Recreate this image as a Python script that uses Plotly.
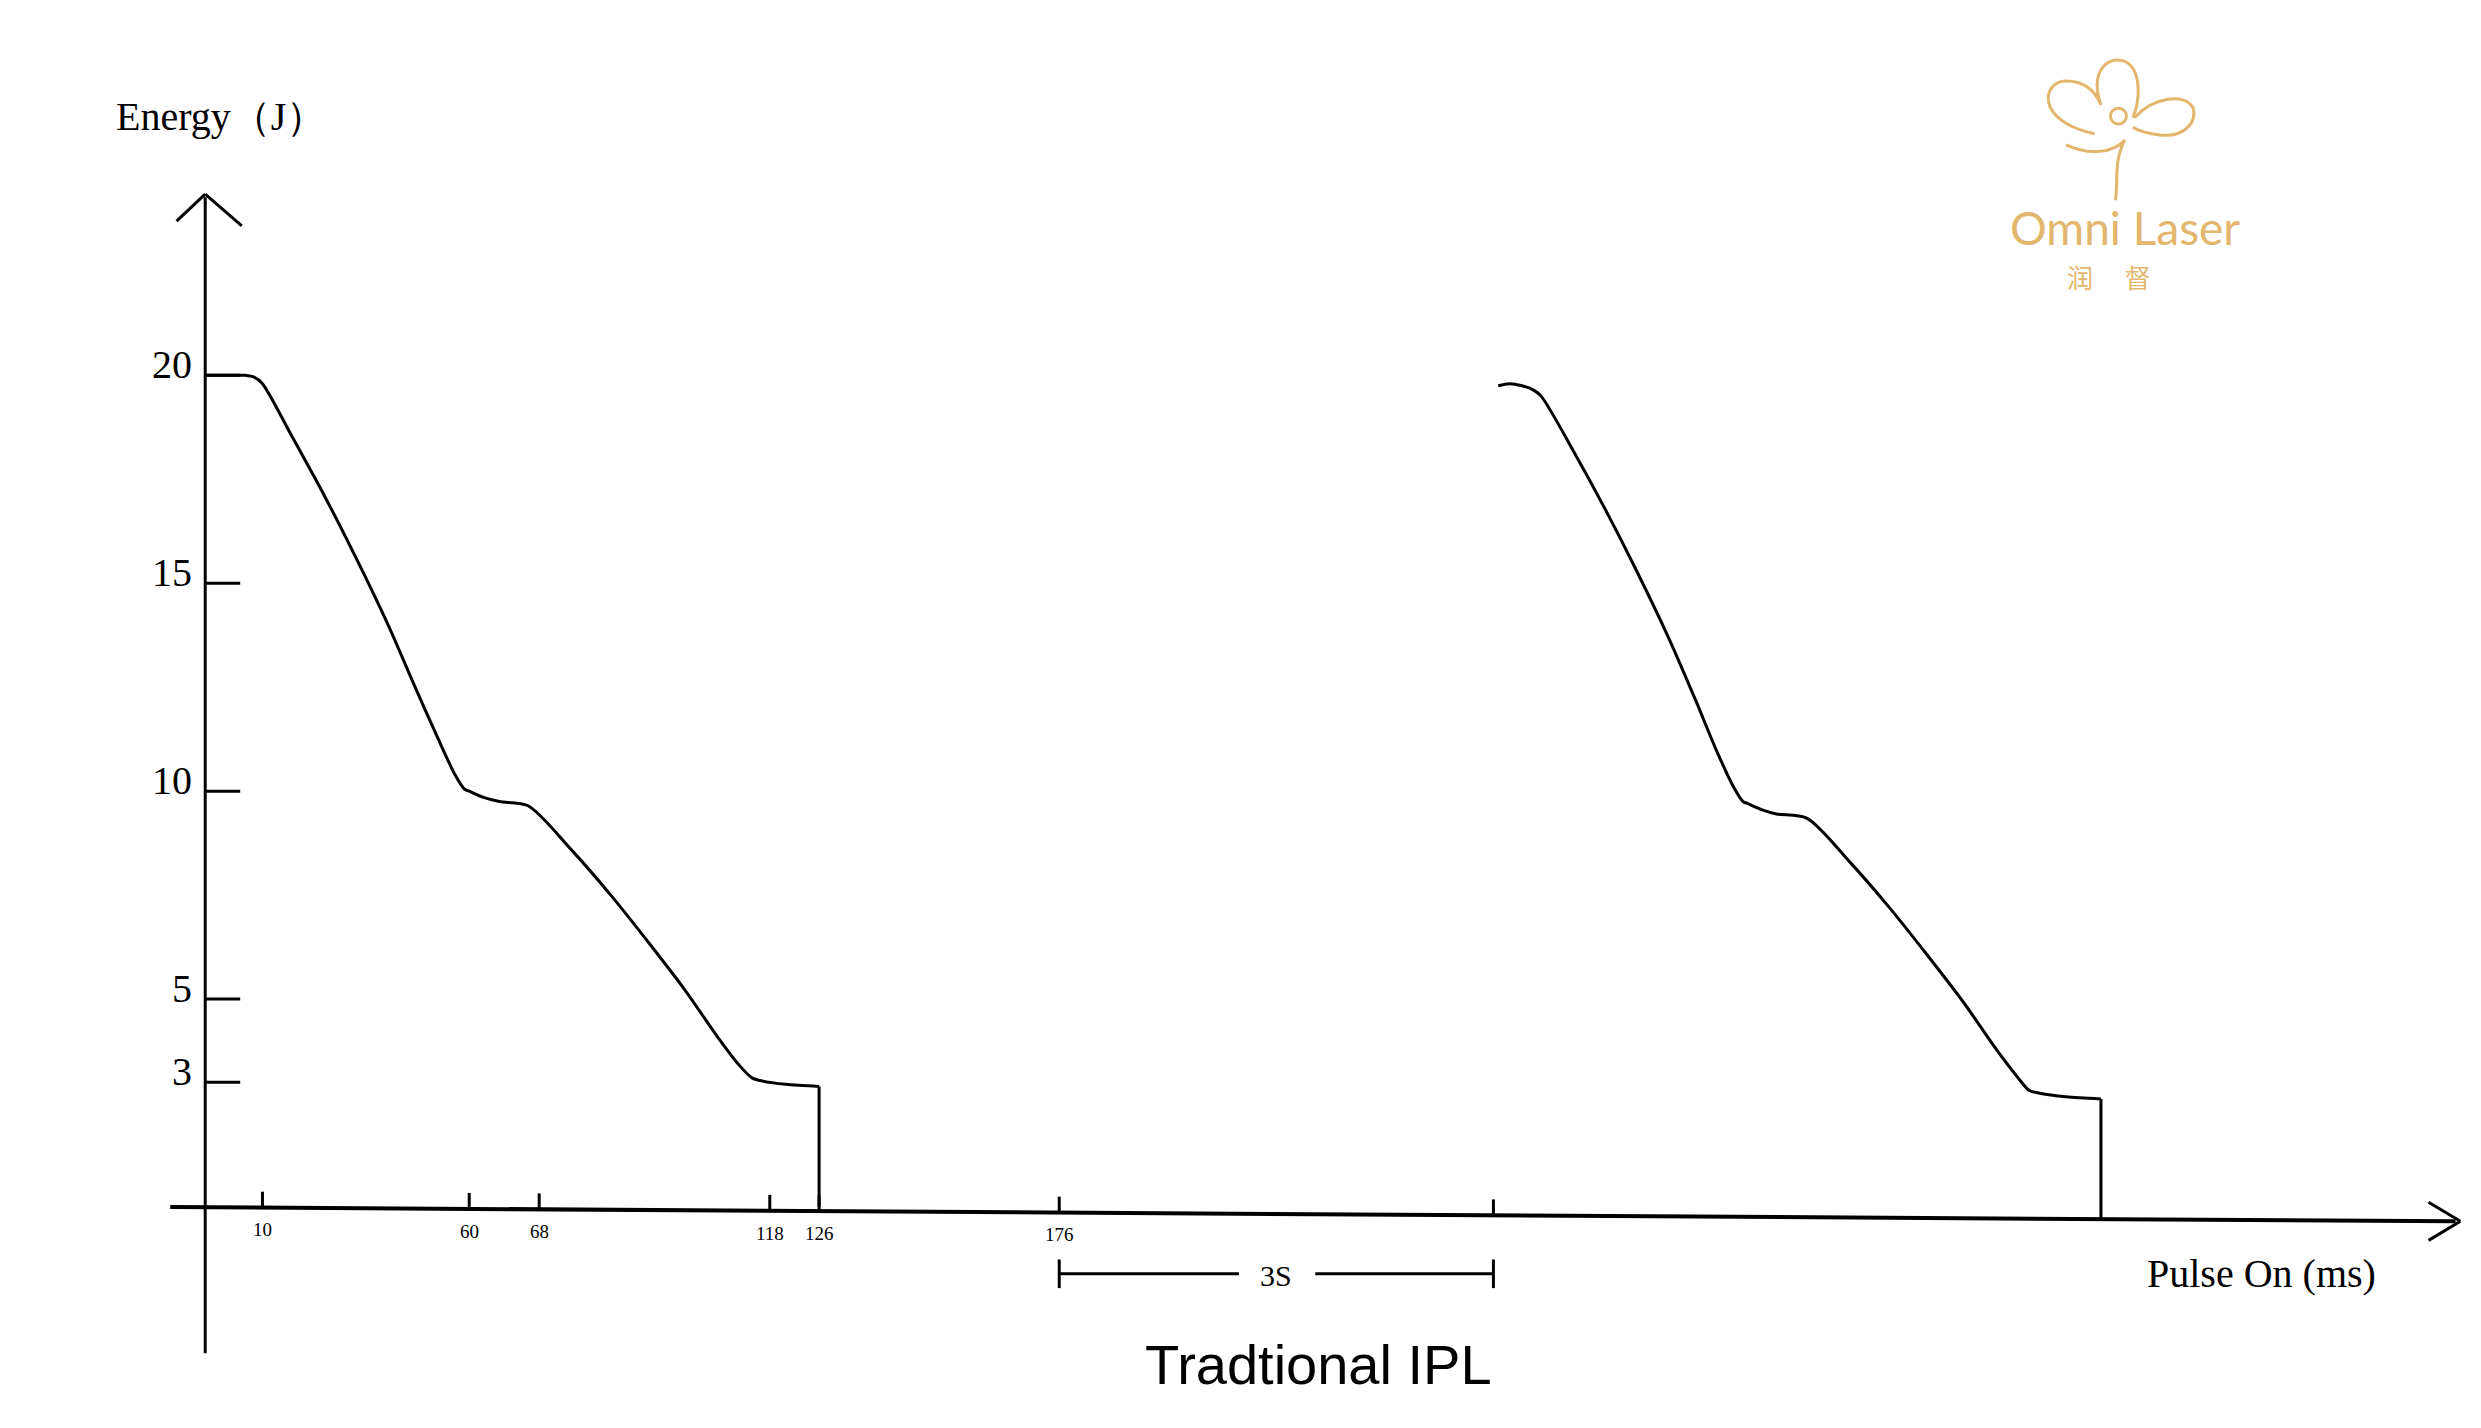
import plotly.graph_objects as go

# pulse 1 curve (x in axis units, energy in J)
p1_x = [130, 145, 155, 161, 166, 185, 205, 225, 245, 262, 276, 287, 293, 296, 305, 315, 333, 360, 385, 410, 432, 452, 466, 474, 478, 495, 516]
p1_y = [20.0, 20.0, 20.0, 19.95, 19.8, 18.5, 17.1, 15.6, 14.0, 12.5, 11.3, 10.4, 10.05, 10.0, 9.85, 9.75, 9.65, 8.6, 7.5, 6.3, 5.2, 4.1, 3.4, 3.1, 3.05, 2.95, 2.9]
p1_drop_x = [516, 516]
p1_drop_y = [2.9, 0.0]
# pulse 2 curve
p2_x = [943, 950, 958, 965, 970, 990, 1010, 1030, 1050, 1067, 1080, 1091, 1097, 1100, 1109, 1118, 1137, 1164, 1189, 1214, 1236, 1256, 1270, 1277, 1282, 1300, 1322]
p2_y = [19.75, 19.8, 19.75, 19.65, 19.5, 18.2, 16.8, 15.3, 13.7, 12.2, 11.0, 10.1, 9.75, 9.7, 9.55, 9.45, 9.35, 8.3, 7.2, 6.0, 4.9, 3.8, 3.1, 2.8, 2.75, 2.65, 2.6]
p2_drop_x = [1322, 1322]
p2_drop_y = [2.6, -0.3]

y_ticks = [20, 15, 10, 5, 3]
x_tick_pos = [166, 296, 340, 485, 516, 667]
x_tick_lab = ["10", "60", "68", "118", "126", "176"]

W, H = 1560.0, 898.0
Y0, SC = 763.0, 26.15
DX, DY = 6.0, 9.0
def yv(py): return (Y0 - py) / SC

fig = go.Figure()
for xs, ys in [(p1_x, p1_y), (p1_drop_x, p1_drop_y), (p2_x, p2_y), (p2_drop_x, p2_drop_y)]:
    fig.add_trace(go.Scatter(x=xs, y=ys, mode="lines", line=dict(color="black", width=3, shape="spline", smoothing=0.8), hoverinfo="skip"))

shapes = []
def ln(x0, py0, x1, py1, w=3):
    shapes.append(dict(type="line", xref="x", yref="y", x0=x0, y0=yv(py0), x1=x1, y1=yv(py1), line=dict(color="black", width=w)))

ln(108, 763, 1545, 772, 4)
ln(1528, 760, 1548, 772, 3); ln(1528, 784, 1548, 772, 3)
ln(130, 855, 130, 128, 3)
ln(112, 143, 130, 126, 3); ln(130, 126, 153, 146, 3)
for t in y_ticks:
    shapes.append(dict(type="line", xref="x", yref="y", x0=130, x1=152, y0=t, y1=t, line=dict(color="black", width=3)))
for xp in x_tick_pos + [940]:
    base = 763 + (xp - 108) * 9 / 1437
    ln(xp, base, xp, base - 10, 3)
ln(667, 805, 780, 805, 3); ln(828, 805, 940, 805, 3)
ln(667, 796, 667, 814, 3); ln(940, 796, 940, 814, 3)

gold = "#E2B66C"
def P(px, py): return f"{(px-DX)/W:.4f},{1-(py-DY)/H:.4f}"
flower = ("M " + P(1318, 88) + " C " + P(1280, 80) + " " + P(1285, 55) + " " + P(1300, 55) +
          " C " + P(1315, 55) + " " + P(1320, 65) + " " + P(1322, 70) +
          " C " + P(1315, 50) + " " + P(1325, 40) + " " + P(1335, 42) +
          " C " + P(1348, 45) + " " + P(1347, 68) + " " + P(1342, 78))
flower2 = ("M " + P(1343, 78) + " C " + P(1355, 65) + " " + P(1375, 62) + " " + P(1380, 72) +
           " C " + P(1382, 80) + " " + P(1376, 90) + " " + P(1360, 89) +
           " C " + P(1352, 88) + " " + P(1345, 86) + " " + P(1342, 84))
stem = ("M " + P(1300, 95) + " C " + P(1315, 102) + " " + P(1330, 100) + " " + P(1337, 92) +
        " C " + P(1330, 105) + " " + P(1333, 118) + " " + P(1331, 130))
for pth in [flower, flower2, stem]:
    shapes.append(dict(type="path", xref="paper", yref="paper", path=pth, line=dict(color=gold, width=3)))
shapes.append(dict(type="circle", xref="paper", yref="paper", x0=(1328-DX)/W, x1=(1338-DX)/W,
                   y0=1-(82-DY)/H, y1=1-(72-DY)/H, line=dict(color=gold, width=3)))

ann = []
def txt(px, py, s, size, font="Liberation Serif", color="black"):
    ann.append(dict(xref="x", yref="y", x=px, y=yv(py), text=s, showarrow=False, xanchor="center", yanchor="middle",
                    font=dict(family=font, size=size, color=color)))
for t in y_ticks:
    ann.append(dict(xref="x", yref="y", x=123, y=t + 0.25, text=str(t), showarrow=False, xanchor="right", yanchor="middle",
                    font=dict(family="Liberation Serif", size=40, color="black")))
for xp, lab in zip(x_tick_pos, x_tick_lab):
    base = 763 + (xp - 108) * 9 / 1437
    txt(xp, base + 14, lab, 19)
txt(140, 77, "Energy（J）", 40)
txt(1423, 805, "Pulse On (ms)", 40)
txt(803, 806, "3S", 30)
txt(830, 862, "Tradtional IPL", 56, font="Liberation Sans")
txt(1337, 147, "Omni Laser", 46, font="Lato", color=gold)
txt(1327, 178, "润　 督", 26, font="Noto Sans CJK SC", color=gold)

fig.update_layout(width=2481, height=1428, margin=dict(l=0, r=0, t=0, b=0),
                  paper_bgcolor="white", plot_bgcolor="white", showlegend=False,
                  shapes=shapes, annotations=ann,
                  xaxis=dict(range=[DX, W + DX], visible=False),
                  yaxis=dict(range=[yv(H + DY), yv(DY)], visible=False))
fig.write_html("out.html")
